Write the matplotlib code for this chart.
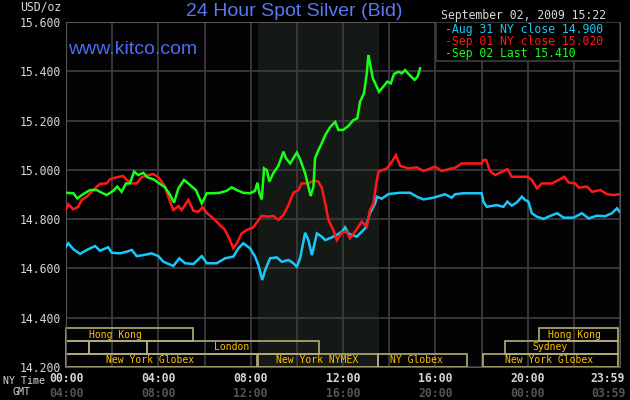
import matplotlib
matplotlib.use('Agg')
import matplotlib.pyplot as plt
from matplotlib.patches import Rectangle

# hours (NY time) and bid prices
aug31_t = [0.0, 0.1, 0.32, 0.61, 0.9, 1.26, 1.47, 1.83, 1.98, 2.34, 2.63, 2.85, 3.06, 3.35,
           3.71, 4.0, 4.22, 4.65, 4.91, 5.16, 5.52, 5.88, 6.1, 6.53, 6.89, 7.25, 7.47, 7.68,
           7.97, 8.19, 8.33, 8.5, 8.63, 8.84, 9.13, 9.35, 9.64, 9.85, 10.0, 10.14, 10.36,
           10.5, 10.65, 10.87, 11.08, 11.23, 11.51, 11.73, 11.95, 12.09, 12.23, 12.6, 12.96,
           13.17, 13.39, 13.46, 13.68, 13.97, 14.48, 14.91, 15.2, 15.49, 15.92, 16.42, 16.71,
           16.85, 17.21, 18.01, 18.08, 18.23, 18.66, 18.95, 19.12, 19.31, 19.53, 19.75, 19.89,
           20.03, 20.18, 20.4, 20.69, 20.9, 21.27, 21.56, 21.99, 22.35, 22.64, 23.0, 23.36,
           23.65, 23.87, 23.98]
aug31_v = [14.688, 14.702, 14.678, 14.659, 14.675, 14.691, 14.672, 14.686, 14.664, 14.661,
           14.668, 14.675, 14.650, 14.654, 14.661, 14.650, 14.627, 14.610, 14.641, 14.621,
           14.618, 14.650, 14.621, 14.621, 14.641, 14.648, 14.682, 14.702, 14.682, 14.648,
           14.614, 14.553, 14.594, 14.641, 14.645, 14.627, 14.634, 14.621, 14.607, 14.641,
           14.745, 14.715, 14.654, 14.742, 14.729, 14.715, 14.726, 14.736, 14.749, 14.767,
           14.742, 14.729, 14.763, 14.824, 14.864, 14.891, 14.883, 14.902, 14.907, 14.907,
           14.891, 14.880, 14.887, 14.901, 14.887, 14.901, 14.905, 14.905, 14.871, 14.850,
           14.857, 14.850, 14.871, 14.855, 14.868, 14.891, 14.878, 14.871, 14.824, 14.810,
           14.801, 14.810, 14.824, 14.806, 14.806, 14.824, 14.803, 14.814, 14.812, 14.824,
           14.844, 14.830]

sep01_t = [0.0, 0.1, 0.32, 0.53, 0.68, 0.9, 1.18, 1.47, 1.76, 1.91, 2.2, 2.48, 2.63, 2.85,
           3.06, 3.28, 3.57, 3.78, 4.0, 4.15, 4.29, 4.43, 4.65, 4.87, 5.01, 5.3, 5.52, 5.73,
           5.92, 6.1, 6.38, 6.67, 6.89, 7.1, 7.25, 7.4, 7.61, 7.83, 8.12, 8.26, 8.48, 8.77,
           8.98, 9.2, 9.42, 9.64, 9.85, 10.07, 10.21, 10.5, 10.72, 10.93, 11.08, 11.23, 11.37,
           11.58, 11.73, 11.95, 12.16, 12.3, 12.52, 12.81, 13.03, 13.17, 13.32, 13.44, 13.54,
           13.9, 14.12, 14.29, 14.48, 14.84, 15.2, 15.49, 15.99, 16.28, 16.57, 16.85, 17.14,
           18.01, 18.08, 18.2, 18.37, 18.59, 18.88, 19.12, 19.31, 19.99, 20.18, 20.4, 20.62,
           21.05, 21.34, 21.59, 21.77, 22.06, 22.21, 22.57, 22.79, 23.15, 23.44, 23.72, 23.97]
sep01_v = [14.837, 14.860, 14.840, 14.850, 14.878, 14.891, 14.918, 14.943, 14.945, 14.962,
           14.970, 14.975, 14.959, 14.945, 14.945, 14.970, 14.979, 14.983, 14.970, 14.952,
           14.932, 14.891, 14.837, 14.853, 14.837, 14.878, 14.834, 14.830, 14.848, 14.825,
           14.803, 14.776, 14.756, 14.715, 14.682, 14.702, 14.742, 14.756, 14.767, 14.786,
           14.813, 14.810, 14.813, 14.797, 14.817, 14.857, 14.907, 14.918, 14.945, 14.945,
           14.956, 14.952, 14.928, 14.864, 14.797, 14.756, 14.715, 14.745, 14.749, 14.722,
           14.749, 14.790, 14.769, 14.837, 14.864, 14.945, 14.993, 15.006, 15.033, 15.060,
           15.016, 15.006, 15.010, 14.995, 15.013, 14.995, 15.003, 15.008, 15.026, 15.026,
           15.040, 15.040, 14.995, 14.979, 14.992, 15.003, 14.972, 14.972, 14.959, 14.925,
           14.945, 14.945, 14.959, 14.972, 14.949, 14.945, 14.928, 14.932, 14.911, 14.918,
           14.901, 14.898, 14.901]

sep02_t = [0.0, 0.32, 0.49, 0.75, 1.04, 1.33, 1.55, 1.76, 2.05, 2.22, 2.41, 2.6, 2.77, 2.95,
           3.13, 3.35, 3.52, 3.78, 4.0, 4.29, 4.51, 4.68, 4.87, 5.11, 5.37, 5.63, 5.88, 6.1,
           6.38, 6.67, 6.96, 7.18, 7.4, 7.68, 7.97, 8.19, 8.29, 8.38, 8.48, 8.58, 8.7, 8.81,
           8.98, 9.2, 9.42, 9.53, 9.71, 10.0, 10.14, 10.36, 10.5, 10.6, 10.72, 10.79, 10.94,
           11.08, 11.23, 11.44, 11.66, 11.8, 12.01, 12.23, 12.45, 12.62, 12.74, 12.91, 13.03,
           13.1, 13.17, 13.29, 13.46, 13.56, 13.75, 13.92, 14.07, 14.21, 14.4, 14.55, 14.69,
           14.88, 15.1, 15.23, 15.34]
sep02_v = [14.907, 14.905, 14.884, 14.902, 14.918, 14.918, 14.907, 14.898, 14.915, 14.932,
           14.911, 14.945, 14.945, 14.993, 14.979, 14.988, 14.970, 14.962, 14.948, 14.929,
           14.898, 14.867, 14.925, 14.959, 14.939, 14.918, 14.864, 14.905, 14.905, 14.907,
           14.915, 14.929, 14.918, 14.907, 14.905, 14.915, 14.948, 14.905, 14.880, 15.006,
           14.999, 14.952, 14.986, 15.016, 15.074, 15.047, 15.026, 15.070, 15.043, 14.986,
           14.932, 14.894, 14.932, 15.047, 15.081, 15.108, 15.141, 15.173, 15.195, 15.162,
           15.162, 15.178, 15.202, 15.209, 15.277, 15.311, 15.392, 15.466, 15.432, 15.372,
           15.338, 15.317, 15.338, 15.358, 15.351, 15.389, 15.398, 15.392, 15.405, 15.385,
           15.365, 15.378, 15.412]

legend_labels = ['-Aug 31 NY close 14.900', '-Sep 01 NY close 15.020', '-Sep 02 Last 15.410']
series_colors = ['#18c8f8', '#ff1818', '#18ff18']

y_ticks = [14.2, 14.4, 14.6, 14.8, 15.0, 15.2, 15.4, 15.6]
ny_ticks = [0, 4, 8, 12, 16, 20]
ny_labels = ['00:00', '04:00', '08:00', '12:00', '16:00', '20:00']
gmt_labels = ['04:00', '08:00', '12:00', '16:00', '20:00', '00:00']

# market sessions: (row, start hour, end hour, label, label hour)
sessions = [
    (0, 0.0, 5.5, 'Hong Kong', 2.14),
    (0, 20.5, 23.93, 'Hong Kong', 22.02),
    (1, 0.0, 1.0, '', 0),
    (1, 1.0, 3.5, '', 0),
    (1, 3.5, 10.97, 'London', 7.18),
    (1, 19.0, 23.93, 'Sydney', 20.95),
    (2, 0.0, 8.26, 'New York Globex', 3.64),
    (2, 8.33, 13.5, 'New York NYMEX', 10.89),
    (2, 13.53, 13.53 + 3.83, 'NY Globex', 15.18),
    (2, 18.05, 23.93, 'New York Globex', 20.94),
]
row_bottom = [0.0762, 0.0386, 0.0009]
row_height = [0.036, 0.0368, 0.0377]

W, H = 630, 400
MONO = 'DejaVu Sans Mono'
GRID = '#3e3e3e'

fig = plt.figure(figsize=(W / 100, H / 100), dpi=100, facecolor='black')
ax = fig.add_axes([66 / W, 33 / H, 554 / W, 345 / H], facecolor='#030306')


def px_text(x, y, s, **kw):
    fig.text(x / W, 1 - y / H, s, va='center', **kw)


# NYMEX open hours shading
ax.axvspan(8.333, 13.55, color='#151915', zorder=0, lw=0)

for t, v, c in zip([aug31_t, sep01_t, sep02_t], [aug31_v, sep01_v, sep02_v], series_colors):
    ax.plot(t, v, color=c, lw=1.8, solid_joinstyle='miter', zorder=3)

ax.set_xlim(0, 24)
ax.set_ylim(14.2, 15.6)
ax.set_xticks(range(0, 25, 2))
ax.set_xticklabels([])
ax.set_yticks(y_ticks)
ax.set_yticklabels([f'{v:.3f}' for v in y_ticks], fontfamily=MONO, fontsize=8.3, color='#d8d8d8')
ax.tick_params(length=0, pad=4)
ax.grid(True, color=GRID, lw=1.2, zorder=1)
for sp in ax.spines.values():
    sp.set_color('#555555')

xt = ax.get_xaxis_transform()
for row, t0, t1, name, tl in sessions:
    ax.add_patch(Rectangle((t0, row_bottom[row]), t1 - t0, row_height[row], transform=xt,
                           fill=False, edgecolor='#b4ad78', lw=1.2, zorder=2, clip_on=False))
    if name:
        ax.text(tl, row_bottom[row] + row_height[row] / 2, name, transform=xt, ha='center',
                va='center', fontfamily=MONO, fontsize=7, color='#ffc000', zorder=4)

# legend box in the top right corner
ax.add_patch(Rectangle((16.03, 0.887), 24 - 16.03, 0.113, transform=xt, facecolor='black',
                       edgecolor=GRID, lw=1.2, zorder=5))
for i, (lab, c) in enumerate(zip(legend_labels, series_colors)):
    px_text(445, 29.3 + i * 12.1, lab, fontfamily=MONO, fontsize=8.3, color=c)

for t, a, b in zip(ny_ticks, ny_labels, gmt_labels):
    ax.text(t, -0.033, a, transform=xt, ha='center', va='center', fontfamily=MONO,
            fontsize=8.3, fontweight='bold', color='#d4d4d4')
    ax.text(t, -0.076, b, transform=xt, ha='center', va='center', fontfamily=MONO,
            fontsize=8.3, fontweight='bold', color='#555555')
ax.text(23.48, -0.033, '23:59', transform=xt, ha='center', va='center', fontfamily=MONO,
        fontsize=8.3, fontweight='bold', color='#d4d4d4')
ax.text(23.48, -0.076, '03:59', transform=xt, ha='center', va='center', fontfamily=MONO,
        fontsize=8.3, fontweight='bold', color='#555555')

px_text(3, 380.5, 'NY Time', fontfamily=MONO, fontsize=7.2, color='#d4d4d4')
px_text(12, 392, 'GMT', fontfamily=MONO, fontsize=7.2, color='#d4d4d4')
px_text(20.5, 7.5, 'USD/oz', fontfamily=MONO, fontsize=8.3, color='#d8d8d8')
px_text(294.3, 11, '24 Hour Spot Silver (Bid)', ha='center', fontfamily='Liberation Sans',
        fontsize=14, color='#5a78f0')
px_text(440.7, 15, 'September 02, 2009 15:22', fontfamily=MONO, fontsize=8.3, color='#d8d8d8')
px_text(68.3, 50, 'www.kitco.com', fontfamily='Liberation Sans', fontsize=14, color='#4a6cf0')

fig.savefig('out.png', dpi=100, facecolor='black')
